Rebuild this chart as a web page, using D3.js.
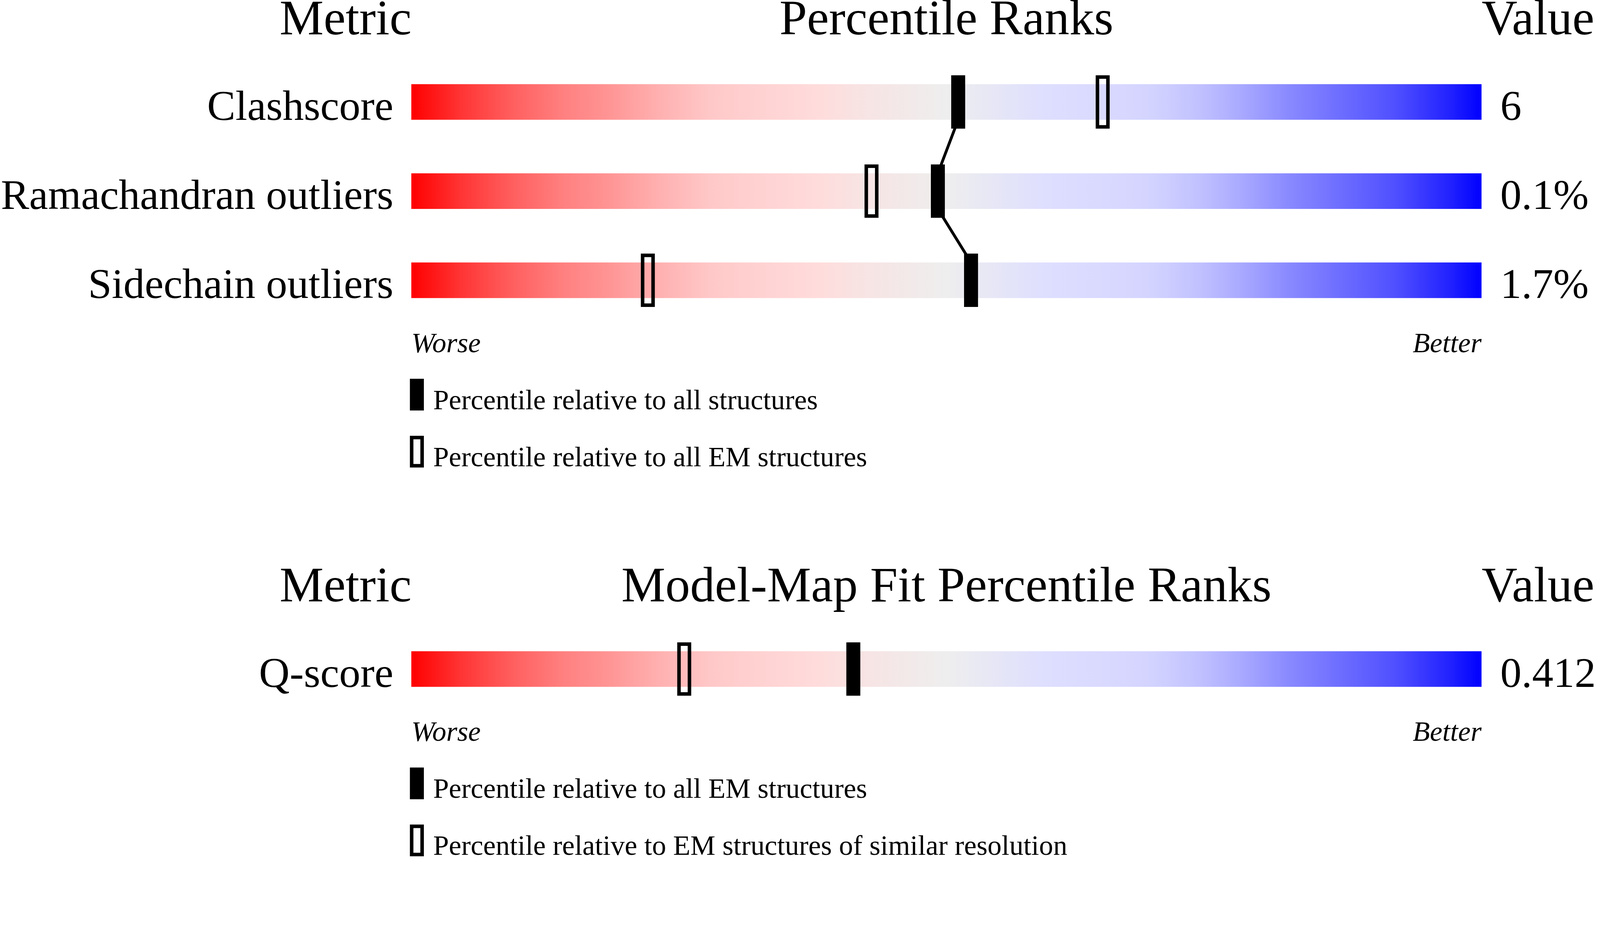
<!DOCTYPE html>
<html>
<head>
<meta charset="utf-8">
<script src="https://cdn.jsdelivr.net/npm/d3@7"></script>
<style>
  html, body { margin: 0; padding: 0; width: 100%; height: 100%; background: #ffffff; overflow: hidden; }
  svg { display: block; position: absolute; left: 0; top: 0; width: 100vw; height: calc(100vw * 2402 / 4485); }
</style>
</head>
<body>
<script>
// ---------------- DATA ----------------
const geometryMetrics = ["Clashscore", "Ramachandran outliers", "Sidechain outliers"];
const geometryValues = ["6", "0.1%", "1.7%"];
const geometryPctAll = [51.1, 49.2, 52.3];      // filled markers: relative to all structures
const geometryPctEM = [64.6, 43.0, 22.1];       // open markers: relative to all EM structures

const fitMetrics = ["Q-score"];
const fitValues = ["0.412"];
const fitPctAllEM = [41.3];                     // filled: relative to all EM structures
const fitPctSimilarRes = [25.5];                // open: EM structures of similar resolution

const panelTitles = ["Percentile Ranks", "Model-Map Fit Percentile Ranks"];
const columnHeaders = ["Metric", "Value"];
const scaleEnds = ["Worse", "Better"];
const geometryLegend = ["Percentile relative to all structures", "Percentile relative to all EM structures"];
const fitLegend = ["Percentile relative to all EM structures", "Percentile relative to EM structures of similar resolution"];

// slider gradient (offset, colour)
const sliderOffsets = [0, 0.047, 0.095, 0.142, 0.18, 0.235, 0.28, 0.333, 0.382, 0.42, 0.5,
                       0.593, 0.65, 0.693, 0.738, 0.774, 0.822, 0.87, 0.919, 0.97, 1];
const sliderColours = ["#ff0000", "#ff3535", "#ff5f5f", "#ff8080", "#ff9292", "#ffb2b2", "#ffc8c8", "#ffd3d3", "#ffdcdc", "#f8e3e3", "#eeeeee",
                       "#dedeff", "#d9d9ff", "#d3d3ff", "#c0c0ff", "#aaaaff", "#8888ff", "#6c6cff", "#5050ff", "#2222ff", "#0000ff"];

// ---------------- LAYOUT ----------------
const W = 1568, H = 2402 / (4485 / 1568);
const FONT = "'Liberation Serif', 'Times New Roman', Times, serif";
const barLeft = 403.1, barRight = 1451.9;
const barH = 34.9, rowStep = 87.4, markerPad = 8.7;
const markerW = 13.7, openStroke = 3.45;

const svg = d3.select("body").append("svg")
  .attr("viewBox", `0 0 ${W} ${H}`)
  .attr("preserveAspectRatio", "xMinYMin meet");

const defs = svg.append("defs");
const grad = defs.append("linearGradient").attr("id", "slider")
  .attr("x1", "0%").attr("x2", "100%").attr("y1", "0%").attr("y2", "0%");
grad.selectAll("stop").data(sliderOffsets).join("stop")
  .attr("offset", d => d)
  .attr("stop-color", (d, i) => sliderColours[i]);

const x = d3.scaleLinear().domain([0, 100]).range([barLeft, barRight]);

function drawPanel(cfg) {
  const g = svg.append("g");
  const n = cfg.metrics.length;
  const y = d3.scaleLinear().domain([0, 1]).range([cfg.firstBarTop, cfg.firstBarTop + rowStep]);
  const rows = d3.range(n);

  // headers
  g.append("text").attr("x", 403.3).attr("y", cfg.headerY).attr("text-anchor", "end")
    .attr("font-family", FONT).attr("font-size", 48.5).text(columnHeaders[0]);
  g.append("text").attr("x", (barLeft + barRight) / 2).attr("y", cfg.headerY).attr("text-anchor", "middle")
    .attr("font-family", FONT).attr("font-size", 48.5).text(cfg.title);
  g.append("text").attr("x", 1452).attr("y", cfg.headerY).attr("text-anchor", "start")
    .attr("font-family", FONT).attr("font-size", 48.5).text(columnHeaders[1]);

  // bars
  g.selectAll("rect.bar").data(rows).join("rect").attr("class", "bar")
    .attr("x", barLeft).attr("y", i => y(i))
    .attr("width", barRight - barLeft).attr("height", barH)
    .attr("fill", "url(#slider)");

  // labels
  g.selectAll("text.metric").data(rows).join("text").attr("class", "metric")
    .attr("x", 385.5).attr("y", i => y(i) + barH).attr("text-anchor", "end")
    .attr("font-family", FONT).attr("font-size", 41.6).text(i => cfg.metrics[i]);
  g.selectAll("text.value").data(rows).join("text").attr("class", "value")
    .attr("x", 1470.3).attr("y", i => y(i) + barH).attr("text-anchor", "start")
    .attr("font-family", FONT).attr("font-size", 41.6).text(i => cfg.values[i]);

  // connecting lines between filled markers
  const links = d3.range(n - 1);
  g.selectAll("line.link").data(links).join("line").attr("class", "link")
    .attr("x1", i => x(cfg.filled[i])).attr("y1", i => y(i) + barH)
    .attr("x2", i => x(cfg.filled[i + 1])).attr("y2", i => y(i + 1))
    .attr("stroke", "#000").attr("stroke-width", 2.8);

  // open markers
  g.selectAll("rect.open").data(rows).join("rect").attr("class", "open")
    .attr("x", i => x(cfg.open[i]) - markerW / 2 + openStroke / 2)
    .attr("y", i => y(i) - markerPad + openStroke / 2)
    .attr("width", markerW - openStroke)
    .attr("height", barH + 2 * markerPad - openStroke)
    .attr("fill", "none").attr("stroke", "#000").attr("stroke-width", openStroke);

  // filled markers
  g.selectAll("rect.filled").data(rows).join("rect").attr("class", "filled")
    .attr("x", i => x(cfg.filled[i]) - markerW / 2)
    .attr("y", i => y(i) - markerPad)
    .attr("width", markerW).attr("height", barH + 2 * markerPad)
    .attr("fill", "#000");

  // worse / better
  const lastBottom = y(n - 1) + barH;
  g.append("text").attr("x", barLeft).attr("y", lastBottom + 53).attr("text-anchor", "start")
    .attr("font-family", FONT).attr("font-style", "italic").attr("font-size", 27.6).text(scaleEnds[0]);
  g.append("text").attr("x", barRight).attr("y", lastBottom + 53).attr("text-anchor", "end")
    .attr("font-family", FONT).attr("font-style", "italic").attr("font-size", 27.6).text(scaleEnds[1]);

  // legend
  const legTop = lastBottom + 79.1, legStep = 55.9, legH = 31.1, legX = 401.7;
  g.append("rect").attr("x", legX).attr("y", legTop).attr("width", markerW).attr("height", legH).attr("fill", "#000");
  g.append("rect").attr("x", legX + openStroke / 2).attr("y", legTop + legStep + openStroke / 2)
    .attr("width", markerW - openStroke).attr("height", legH - openStroke)
    .attr("fill", "none").attr("stroke", "#000").attr("stroke-width", openStroke);
  g.selectAll("text.leg").data(cfg.legend).join("text").attr("class", "leg")
    .attr("x", 424.5).attr("y", (d, i) => legTop + i * legStep + 29.7)
    .attr("font-family", FONT).attr("font-size", 27.6).text(d => d);
}

drawPanel({
  title: panelTitles[0], headerY: 33.5, firstBarTop: 82.5,
  metrics: geometryMetrics, values: geometryValues,
  filled: geometryPctAll, open: geometryPctEM, legend: geometryLegend
});
drawPanel({
  title: panelTitles[1], headerY: 589.5, firstBarTop: 638.4,
  metrics: fitMetrics, values: fitValues,
  filled: fitPctAllEM, open: fitPctSimilarRes, legend: fitLegend
});
</script>
</body>
</html>
